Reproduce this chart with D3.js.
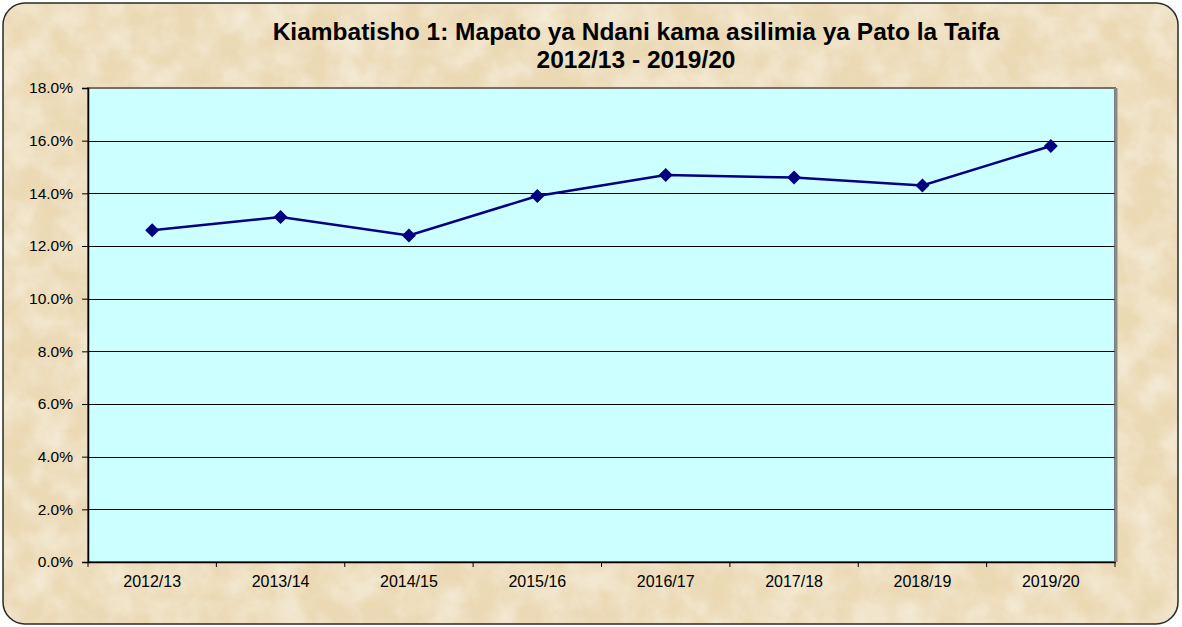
<!DOCTYPE html>
<html>
<head>
<meta charset="utf-8">
<script src="https://cdn.jsdelivr.net/npm/d3@7"></script>
<style>
  html, body { margin: 0; padding: 0; background: #ffffff; }
  #chart { width: 1182px; height: 627px; }
  text { font-family: Arial, "Liberation Sans", sans-serif; }
</style>
</head>
<body>
<div id="chart"></div>
<script>
(function () {
  'use strict';

  // Chart data
  var titleLines = ['Kiambatisho 1: Mapato ya Ndani kama asilimia ya Pato la Taifa', '2012/13 - 2019/20'];
  var years = ['2012/13', '2013/14', '2014/15', '2015/16', '2016/17', '2017/18', '2018/19', '2019/20'];
  var revenuePct = [12.6, 13.1, 12.4, 13.9, 14.7, 14.6, 14.3, 15.8];
  var yTicks = [0, 2, 4, 6, 8, 10, 12, 14, 16, 18];

  var width = 1182, height = 627;
  var margin = { top: 88, right: 67, bottom: 65, left: 88 };
  var iw = width - margin.left - margin.right;
  var ih = height - margin.top - margin.bottom;

  var svg = d3.select('#chart').append('svg').attr('width', width).attr('height', height);
  var defs = svg.append('defs');

  // parchment texture: soft light mottling + fine darker grain
  var f = defs.append('filter').attr('id', 'paper').attr('x', 0).attr('y', 0).attr('width', '100%').attr('height', '100%');
  f.append('feTurbulence').attr('type', 'fractalNoise').attr('baseFrequency', '0.03').attr('numOctaves', 4).attr('seed', 7).attr('result', 'n');
  f.append('feColorMatrix').attr('in', 'n').attr('type', 'matrix')
    .attr('values', '0 0 0 0 0.96  0 0 0 0 0.92  0 0 0 0 0.82  1.1 0 0 0 -0.38').attr('result', 'light');
  f.append('feTurbulence').attr('type', 'fractalNoise').attr('baseFrequency', '0.14').attr('numOctaves', 3).attr('seed', 21).attr('result', 'n2');
  f.append('feColorMatrix').attr('in', 'n2').attr('type', 'matrix')
    .attr('values', '0 0 0 0 0.82  0 0 0 0 0.72  0 0 0 0 0.55  0 0.8 0 0 -0.36').attr('result', 'dark');
  var fm = f.append('feMerge');
  fm.append('feMergeNode').attr('in', 'SourceGraphic');
  fm.append('feMergeNode').attr('in', 'dark');
  fm.append('feMergeNode').attr('in', 'light');

  defs.append('clipPath').attr('id', 'frameClip')
    .append('rect').attr('x', 3).attr('y', 3).attr('width', 1175).attr('height', 621).attr('rx', 22);

  svg.append('rect').attr('x', 3).attr('y', 3).attr('width', 1175).attr('height', 621).attr('rx', 22)
    .attr('fill', '#EBD9B4').attr('clip-path', 'url(#frameClip)').attr('filter', 'url(#paper)');
  svg.append('rect').attr('x', 3).attr('y', 3).attr('width', 1175).attr('height', 621).attr('rx', 22)
    .attr('fill', 'none').attr('stroke', '#2a2a2a').attr('stroke-width', 1.5);

  // Title
  svg.selectAll('text.title').data(titleLines).enter().append('text')
    .attr('class', 'title')
    .attr('x', 636)
    .attr('y', function (d, i) { return 40 + i * 28; })
    .attr('text-anchor', 'middle')
    .attr('font-size', '24.5px').attr('font-weight', 'bold').attr('fill', '#000')
    .text(function (d) { return d; });

  var x = d3.scaleBand().domain(years).range([0, iw]);
  var y = d3.scaleLinear().domain([0, 18]).range([ih, 0]);

  var g = svg.append('g').attr('transform', 'translate(' + margin.left + ',' + margin.top + ')');

  // plot area
  g.append('rect').attr('x', 0).attr('y', 0).attr('width', iw).attr('height', ih)
    .attr('fill', '#CCFFFF').attr('stroke', '#707070').attr('stroke-width', 2);

  // gridlines
  g.selectAll('line.grid').data(yTicks.filter(function (t) { return t > 0 && t < 18; })).enter().append('line')
    .attr('class', 'grid')
    .attr('x1', 0).attr('x2', iw)
    .attr('y1', function (d) { return Math.round(y(d)) + 0.5; })
    .attr('y2', function (d) { return Math.round(y(d)) + 0.5; })
    .attr('stroke', '#000').attr('stroke-width', 1);

  // right edge shadow
  g.append('line').attr('x1', iw + 1).attr('x2', iw + 1).attr('y1', 0).attr('y2', ih)
    .attr('stroke', '#8a8a8a').attr('stroke-width', 3);

  // axes
  var yAxis = g.append('g')
    .call(d3.axisLeft(y).tickValues(yTicks).tickSize(6).tickPadding(9)
      .tickFormat(function (d) { return d.toFixed(1) + '%'; }));
  yAxis.selectAll('text').attr('font-size', '15.5px').attr('fill', '#000');

  var xAxis = g.append('g').attr('transform', 'translate(0,' + ih + ')')
    .call(d3.axisBottom(x).tickSize(0).tickPadding(14));
  xAxis.selectAll('text').attr('font-size', '16px').attr('fill', '#000');
  xAxis.selectAll('.tick line').remove();

  // category boundary ticks
  var bounds = years.map(function (d) { return x(d); }).concat([iw]);
  g.selectAll('line.xtick').data(bounds).enter().append('line')
    .attr('class', 'xtick')
    .attr('x1', function (d) { return d; }).attr('x2', function (d) { return d; })
    .attr('y1', ih).attr('y2', ih + 5)
    .attr('stroke', '#000');

  g.selectAll('.domain').attr('stroke', '#000').attr('stroke-width', 1.5);

  // line
  var cx = function (d, i) { return x(years[i]) + x.bandwidth() / 2; };
  var line = d3.line().x(cx).y(function (d) { return y(d); });
  g.append('path').datum(revenuePct)
    .attr('d', line)
    .attr('fill', 'none').attr('stroke', '#000080').attr('stroke-width', 2.5);

  g.selectAll('path.marker').data(revenuePct).enter().append('path')
    .attr('class', 'marker')
    .attr('d', d3.symbol().type(d3.symbolSquare).size(98))
    .attr('transform', function (d, i) { return 'translate(' + cx(d, i) + ',' + y(d) + ') rotate(45)'; })
    .attr('fill', '#000080');
})();
</script>
</body>
</html>
